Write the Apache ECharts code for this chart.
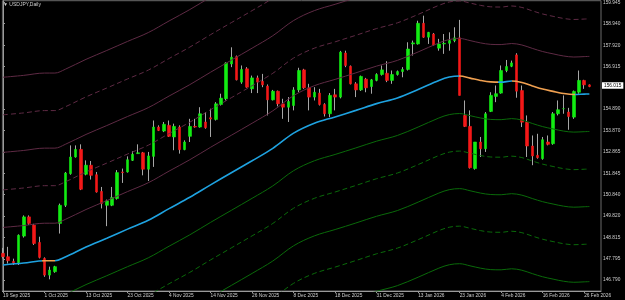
<!DOCTYPE html>
<html><head><meta charset="utf-8">
<script src="https://cdn.jsdelivr.net/npm/echarts@6/dist/echarts.min.js"></script>
<style>html,body{margin:0;padding:0;background:#000}#c{width:625px;height:300px}</style>
</head><body><div id="c"></div>
<script>
const symbolTitle = '\u25BC USDJPY,Daily';
const dateLabels = ['19 Sep 2025','1 Oct 2025','13 Oct 2025','23 Oct 2025','4 Nov 2025','14 Nov 2025','26 Nov 2025','8 Dec 2025','18 Dec 2025','31 Dec 2025','13 Jan 2026','23 Jan 2026','4 Feb 2026','16 Feb 2026','26 Feb 2026'];
const dateLabelIdx = [0,8,16,24,32,40,48,56,64,72,80,88,96,104,112];
const opens = [148.05,147.89,147.67,147.61,148.87,149.78,149.39,148.57,147.81,147.02,
147.18,149.47,150.33,151.83,152.62,152.98,151.80,152.23,151.78,150.99,
150.33,150.33,150.65,151.91,151.91,152.46,152.78,152.82,152.04,152.65,
154.04,153.85,154.12,153.57,154.04,152.97,153.60,154.07,154.04,154.28,
154.48,154.40,155.11,155.38,157.03,157.38,156.17,156.80,155.85,156.37,
156.21,155.98,155.33,155.74,155.14,154.98,155.06,155.80,156.75,155.90,
155.46,155.65,155.11,154.67,155.57,155.46,157.55,156.92,156.09,155.80,
156.31,155.96,156.25,156.53,156.59,156.25,156.53,156.67,156.77,157.98,
157.98,158.96,158.30,158.45,157.78,157.98,158.01,158.14,158.27,154.59,
154.07,152.07,153.33,153.01,154.78,155.49,155.65,156.72,156.92,157.46,
155.77,154.27,153.14,152.70,152.54,153.33,153.25,154.67,154.91,154.75,
154.51,155.69,156.25,156.04];
const closes = [147.89,147.70,147.60,148.91,149.78,149.47,148.52,147.86,147.02,147.26,
147.42,150.33,151.86,152.62,152.98,151.09,152.23,151.75,150.96,150.41,
150.54,150.70,151.88,151.88,152.49,152.75,152.82,152.04,152.67,154.04,
153.88,154.17,153.60,154.07,152.97,153.33,154.07,154.04,154.67,154.01,
154.42,155.14,155.41,157.07,157.35,156.28,156.77,155.93,156.37,156.17,
156.04,155.33,155.74,155.14,154.98,155.25,155.80,156.72,155.90,155.46,
155.69,155.11,154.67,155.54,155.46,157.59,156.96,156.09,155.80,156.44,
155.90,156.28,156.53,156.75,156.25,156.53,156.67,156.77,157.74,158.03,
158.96,158.30,158.53,157.93,157.98,158.01,158.14,158.27,155.54,154.07,
152.11,153.33,153.01,154.67,155.54,155.62,156.72,156.91,157.08,155.74,
154.27,153.14,152.67,152.59,153.44,153.22,154.67,154.86,154.91,154.54,
155.73,156.25,156.04,155.96];
const lows = [147.81,147.57,147.50,147.50,148.80,149.40,148.45,147.81,146.94,146.82,
147.13,148.99,150.25,151.78,152.59,151.05,151.75,151.55,150.93,150.18,
149.34,150.29,150.60,151.39,151.88,152.43,152.78,151.75,151.48,152.15,
153.85,153.80,153.57,152.94,152.78,152.94,153.33,154.01,154.01,153.96,
153.57,154.35,155.06,155.30,156.88,156.25,156.09,155.90,155.65,155.65,
155.93,154.59,155.30,155.02,154.43,154.28,154.83,155.69,155.85,154.83,
155.30,155.06,154.54,154.51,154.83,155.40,156.88,156.06,155.46,155.75,
155.69,155.62,156.21,156.48,156.17,156.09,156.48,156.40,156.72,157.43,
157.95,158.27,157.98,157.90,157.66,157.51,157.66,158.06,155.54,154.04,
152.07,152.02,152.62,152.86,154.75,155.22,155.62,156.64,156.88,155.43,
154.04,152.62,152.23,152.54,152.49,153.17,153.20,154.59,154.67,153.91,
154.43,155.62,155.85,155.93];
const highs = [148.31,148.36,147.80,148.95,149.85,149.85,149.45,148.84,147.86,147.42,
147.46,150.41,151.91,153.17,153.17,153.22,152.46,152.43,151.91,151.20,
150.60,151.20,152.00,152.07,152.65,152.90,153.22,152.86,152.86,154.35,
154.12,154.28,154.35,154.20,154.12,153.41,154.43,154.43,154.98,154.75,
154.91,155.22,155.62,157.11,157.82,157.43,156.96,156.88,156.48,156.48,
156.56,156.06,155.80,155.77,155.38,155.46,155.93,156.85,156.80,156.09,
155.93,155.85,155.17,155.65,155.85,157.65,157.66,156.96,156.17,156.48,
156.37,156.32,156.59,156.96,157.16,156.72,156.72,156.88,158.06,158.14,
159.08,159.32,158.55,158.50,158.22,158.45,158.53,158.77,159.12,155.30,
154.83,153.33,153.57,154.75,155.69,156.01,156.96,157.22,157.19,157.54,
156.01,154.59,153.64,153.72,153.57,153.64,154.75,155.30,155.54,154.95,
155.77,156.72,156.28,156.06];
const maIdx = [0,4,8,10,12,16,20,24,28,32,36,40,44,48,52,56,60,64,68,72,76,80,84,86,88,90,92,94,96,98,100,102,104,106,108,110,112,113];
const maVal = [147.50,147.59,147.70,147.70,147.88,148.35,148.77,149.20,149.62,150.17,150.71,151.30,151.87,152.44,153.03,153.75,154.22,154.52,154.83,155.15,155.42,155.82,156.25,156.41,156.46,156.36,156.25,156.18,156.17,156.22,156.15,155.99,155.84,155.73,155.63,155.58,155.60,155.61];
const maFallingSpans = [[7.6,10.1],[87.8,95.3],[98.1,110.3]];
const bandStep = 1.78;
const bandMultipliers = [5,4,3,2,1,-1,-2,-3,-4,-5];
const priceTicks = [159.945,158.940,157.920,156.915,154.890,153.870,152.865,151.845,150.840,149.820,148.815,147.795,146.790];
const lastPrice = 156.015;

const FONT = 'Liberation Sans';
const TXT = '#cfcfcf';
const chart = echarts.init(document.getElementById('c'));
const barIdx = opens.map((_, i) => i);
const wickData = barIdx.map(i => [i, opens[i], closes[i], lows[i], highs[i]]);
const bodyData = barIdx.map(i => [i, opens[i], closes[i], Math.min(opens[i], closes[i]), Math.max(opens[i], closes[i])]);
const maData = maIdx.map((x, k) => [x, maVal[k]]);
const UP = '#12ec12', DN = '#f41818', WICK = '#a6a6a6';
const bandSeries = bandMultipliers.map(m => ({
  type: 'line', name: 'band' + m,
  data: maData.map(([x, v]) => [x, v + m * bandStep]),
  showSymbol: false, symbol: 'none', smooth: 0.35, silent: true, z: 3,
  lineStyle: { width: 1, color: m > 0 ? '#5e2a44' : '#0a6a0a', type: (Math.abs(m) % 2 === 0) ? [5, 3] : 'solid' }
}));
const series = [
  { type: 'candlestick', name: 'wick', data: wickData, encode: { x: 0, y: [1, 2, 3, 4] },
    barWidth: 0.6, silent: true, z: 2,
    itemStyle: { color: WICK, color0: WICK, borderColor: WICK, borderColor0: WICK, borderWidth: 1 } },
  { type: 'candlestick', name: 'body', data: bodyData, encode: { x: 0, y: [1, 2, 3, 4] },
    barWidth: 3, silent: true, z: 2,
    itemStyle: { color: UP, color0: DN, borderColor: UP, borderColor0: DN, borderWidth: 0.6 } },
  ...bandSeries,
  { type: 'line', name: 'ma', data: maData, showSymbol: false, symbol: 'none', smooth: 0.35,
    silent: true, z: 4, lineStyle: { width: 1.6 },
    markLine: { symbol: 'none', silent: true, animation: false,
      lineStyle: { width: 0, color: 'rgba(0,0,0,0)' },
      label: { show: true, position: 'end', distance: 1, formatter: lastPrice.toFixed(3), backgroundColor: '#ffffff',
        color: '#000', fontSize: 4.8, fontFamily: FONT, padding: [1, 2, 0.5, 2], opacity: 1 },
      data: [{ yAxis: lastPrice }] } }
];
chart.setOption({
  animation: false,
  backgroundColor: '#000',
  textStyle: { fontFamily: FONT },
  title: { text: symbolTitle, left: 3, top: 2, padding: 0,
    textStyle: { fontSize: 5, color: TXT, fontWeight: 'normal', fontFamily: FONT } },
  grid: { left: 0, right: 24, top: 0, bottom: 9, show: true, borderColor: '#6a6a6a', borderWidth: 1 },
  xAxis: { type: 'value', min: -0.115, max: 115.24,
    axisLine: { show: true, onZero: false, lineStyle: { color: '#9a9a9a' } },
    axisTick: { show: true, length: 2, customValues: dateLabelIdx, lineStyle: { color: '#9a9a9a' } },
    splitLine: { show: false },
    axisLabel: { customValues: dateLabelIdx, align: 'left', margin: 2, fontSize: 4.8, color: TXT, fontFamily: FONT,
      formatter: v => dateLabels[dateLabelIdx.indexOf(Math.round(v))] || '' } },
  yAxis: { type: 'value', position: 'right', min: 146.266, max: 160.03, scale: true,
    axisLine: { show: true, lineStyle: { color: '#9a9a9a' } },
    axisTick: { show: true, length: 2, customValues: priceTicks, lineStyle: { color: '#9a9a9a' } },
    splitLine: { show: false },
    axisLabel: { customValues: priceTicks, margin: 2, fontSize: 4.8, color: TXT, fontFamily: FONT,
      formatter: v => v.toFixed(3) } },
  visualMap: { show: false, type: 'piecewise', seriesIndex: series.length - 1, dimension: 0,
    pieces: maFallingSpans.map(([a, b]) => ({ gte: a, lt: b, color: '#f0a050' })),
    outOfRange: { color: '#1ea2e0' } },
  series
});
</script></body></html>
